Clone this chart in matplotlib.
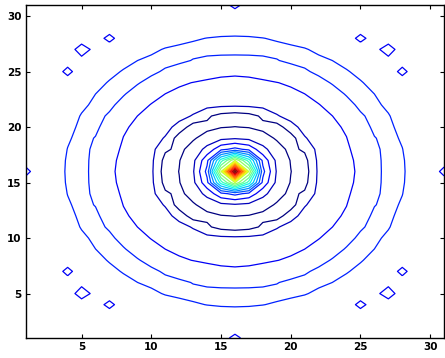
import numpy as np
import matplotlib.pyplot as plt

# radial profile of the surface (distance from the centre cell -> value)
radius = [0, 1, 1.414, 2, 3, 4, 5, 6, 7, 8, 9, 10, 11, 12, 13, 14,
          14.95, 15, 15.03, 15.53, 15.556, 15.6, 17, 22]
profile = [20.8, 12.0, 8.5, 4.3, 1.9, 1.02, 0.5, 2.2, 2.6, 2.85, 3.1, 3.7, 4.3, 4.1, 3.6, 3.2,
           3.15, 2.9, 3.15, 3.15, 2.75, 3.15, 3.4, 3.4]
levels = np.arange(1, 21)
xticks = [5, 10, 15, 20, 25, 30]
yticks = [5, 10, 15, 20, 25, 30]

n = 31
idx = np.arange(1, n + 1)
X, Y = np.meshgrid(idx, idx)
R = np.hypot(X - 16, Y - 16)
Z = np.interp(R, radius, profile)

fig = plt.figure(figsize=(4.45, 3.58), dpi=100)
ax = fig.add_axes([0.058, 0.056, 0.94, 0.93])
ax.contour(idx, idx, Z, levels=levels, cmap='jet', linewidths=0.9)

ax.set_xlim(1, 31)
ax.set_ylim(1, 31)
ax.set_xticks(xticks)
ax.set_yticks(yticks)
ax.tick_params(direction='in', length=3, width=0.8, top=True, right=True,
               labelsize=7.5, pad=3)
for lab in ax.get_xticklabels() + ax.get_yticklabels():
    lab.set_fontweight('bold')
for s in ax.spines.values():
    s.set_linewidth(1.0)

fig.savefig('out.png', dpi=100)
